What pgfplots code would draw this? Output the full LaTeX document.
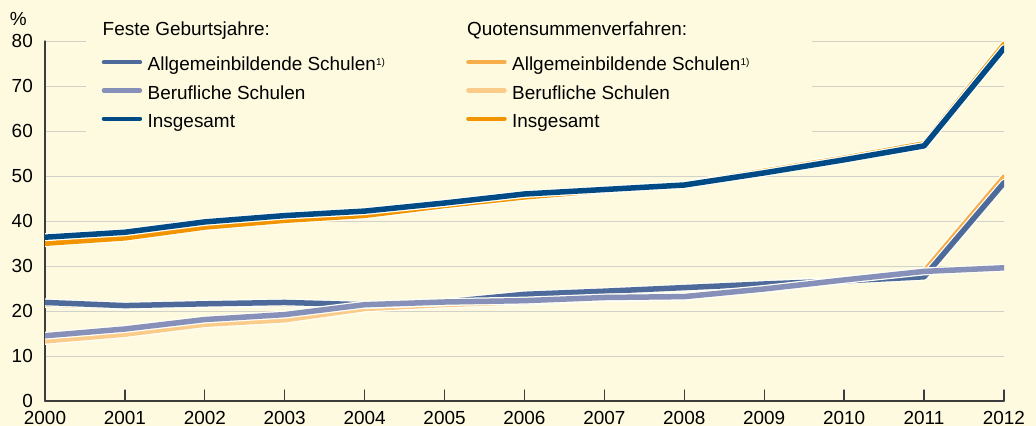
\documentclass[border=0pt]{standalone}
\usepackage{pgfplots}
\pgfplotsset{compat=1.18}
\usepackage{pgfplotstable}
\usepackage{fontspec}
\setmainfont{Liberation Sans}
\definecolor{bgc}{HTML}{FDFAE0}
\definecolor{gridc}{HTML}{D3D2CA}
\definecolor{axisc}{HTML}{3C3C3C}
\definecolor{fic}{HTML}{004A86}
\definecolor{fac}{HTML}{4D6A9B}
\definecolor{fbc}{HTML}{8790B8}
\definecolor{qic}{HTML}{F29400}
\definecolor{qac}{HTML}{F7AE4A}
\definecolor{qbc}{HTML}{FBCB8A}
\definecolor{haloc}{HTML}{FFFFF4}
\newcommand\chfont{\fontsize{19}{22}\selectfont}
\newcommand\fnmark{\raisebox{5bp}{\fontsize{10}{10}\selectfont 1)}}
\newcommand\ent[2][299bp]{\makebox[#1][l]{#2}}
\newcommand\head[2][299bp]{\makebox[#1][l]{\hspace*{-45bp}#2}}

\pgfplotstableread{
year FI   QI   FA   QA   FB   QB
2000 36.4 35.0 21.9 21.5 14.5 13.3
2001 37.5 36.2 21.2 21.0 16.0 14.8
2002 39.8 38.6 21.6 21.4 18.1 17.0
2003 41.2 40.1 21.9 21.6 19.2 18.0
2004 42.2 41.2 21.4 21.3 21.4 20.5
2005 44.0 43.4 22.0 21.9 22.0 21.4
2006 46.0 45.3 23.7 23.5 22.3 22.0
2007 47.0 46.8 24.4 24.2 23.0 22.8
2008 48.0 48.2 25.2 25.0 23.2 23.1
2009 50.7 51.1 26.0 26.0 24.9 24.8
2010 53.6 54.0 26.7 27.0 26.9 26.8
2011 56.7 57.2 27.6 28.8 28.8 28.7
2012 78.4 79.3 48.5 49.8 29.6 29.6
}\datatable

\begin{document}
\begin{tikzpicture}
\fill[bgc] (0,0) rectangle (1036bp,426bp);
\begin{axis}[
  at={(45bp,25bp)}, anchor=south west,
  scale only axis, width=959bp, height=360bp,
  xmin=2000, xmax=2012, ymin=0, ymax=80,
  xtick={2000,...,2012}, ytick={0,10,...,80},
  axis x line*=bottom, axis y line*=left,
  axis line style={draw=axisc, line width=1.2bp, -},
  x tick style={draw=axisc, line width=1.2bp},
  major tick length=11bp, tick align=inside,
  ytick style={draw=none},
  ymajorgrids, major grid style={draw=gridc, line width=0.8bp},
  /pgf/number format/assume math mode=true,
  tick label style={font=\chfont},
  xticklabel style={anchor=base, inner sep=0pt, yshift=-23bp, /pgf/number format/1000 sep={}},
  yticklabel style={anchor=east, inner sep=0pt, xshift=-12bp},
  ylabel={\%},
  every axis y label/.style={at={(rel axis cs:0,1)}, anchor=base east, inner sep=0pt, xshift=-18bp, yshift=16bp, font=\chfont},
  legend columns=2, legend cell align=left,
  legend style={at={(0.04275,1.0722)}, anchor=north west, fill=bgc, draw=none,
    inner xsep=13bp, inner ysep=5bp, row sep=8.8bp, font=\chfont,
    nodes={inner sep=0pt, anchor=west, text height=15bp, text depth=4.5bp},
    /tikz/every odd column/.append style={column sep=3bp},
    /tikz/every even column/.append style={column sep=17bp}},
  legend image code/.code={\path (0bp,0bp) (41bp,0bp); \draw[#1, line cap=round] (2.5bp,3.5bp) -- (38.5bp,3.5bp);},
  line join=round, line cap=round
]
\addplot[forget plot, draw=qbc, line width=5bp, preaction={draw=haloc, line width=7.5bp}] table[x=year, y=QB] {\datatable};
\addplot[forget plot, draw=qac, line width=5bp, preaction={draw=haloc, line width=7.5bp}] table[x=year, y=QA] {\datatable};
\addplot[forget plot, draw=qic, line width=5bp, preaction={draw=haloc, line width=7.5bp}] table[x=year, y=QI] {\datatable};
\addplot[forget plot, draw=fac, line width=5.5bp, preaction={draw=haloc, line width=8bp}] table[x=year, y=FA] {\datatable};
\addplot[forget plot, draw=fbc, line width=5.5bp, preaction={draw=haloc, line width=8bp}] table[x=year, y=FB] {\datatable};
\addplot[forget plot, draw=fic, line width=5.5bp, preaction={draw=haloc, line width=8bp}] table[x=year, y=FI] {\datatable};

\addlegendimage{empty legend}\addlegendentry[text depth=11.9bp]{\head{Feste Geburtsjahre:}}
\addlegendimage{empty legend}\addlegendentry[text depth=11.9bp]{\head[287bp]{Quotensummenverfahren:}}
\addlegendimage{fac, line width=4.5bp}\addlegendentry{\ent{Allgemeinbildende Schulen\fnmark}}
\addlegendimage{qac, line width=4.5bp}\addlegendentry{\ent[287bp]{Allgemeinbildende Schulen\fnmark}}
\addlegendimage{fbc, line width=4.5bp}\addlegendentry{\ent{Berufliche Schulen}}
\addlegendimage{qbc, line width=4.5bp}\addlegendentry{\ent[287bp]{Berufliche Schulen}}
\addlegendimage{fic, line width=4.5bp}\addlegendentry{\ent{Insgesamt}}
\addlegendimage{qic, line width=4.5bp}\addlegendentry{\ent[287bp]{Insgesamt}}
\end{axis}
\pgfresetboundingbox
\path[use as bounding box] (0,0) rectangle (1036bp,426bp);
\end{tikzpicture}
\end{document}
